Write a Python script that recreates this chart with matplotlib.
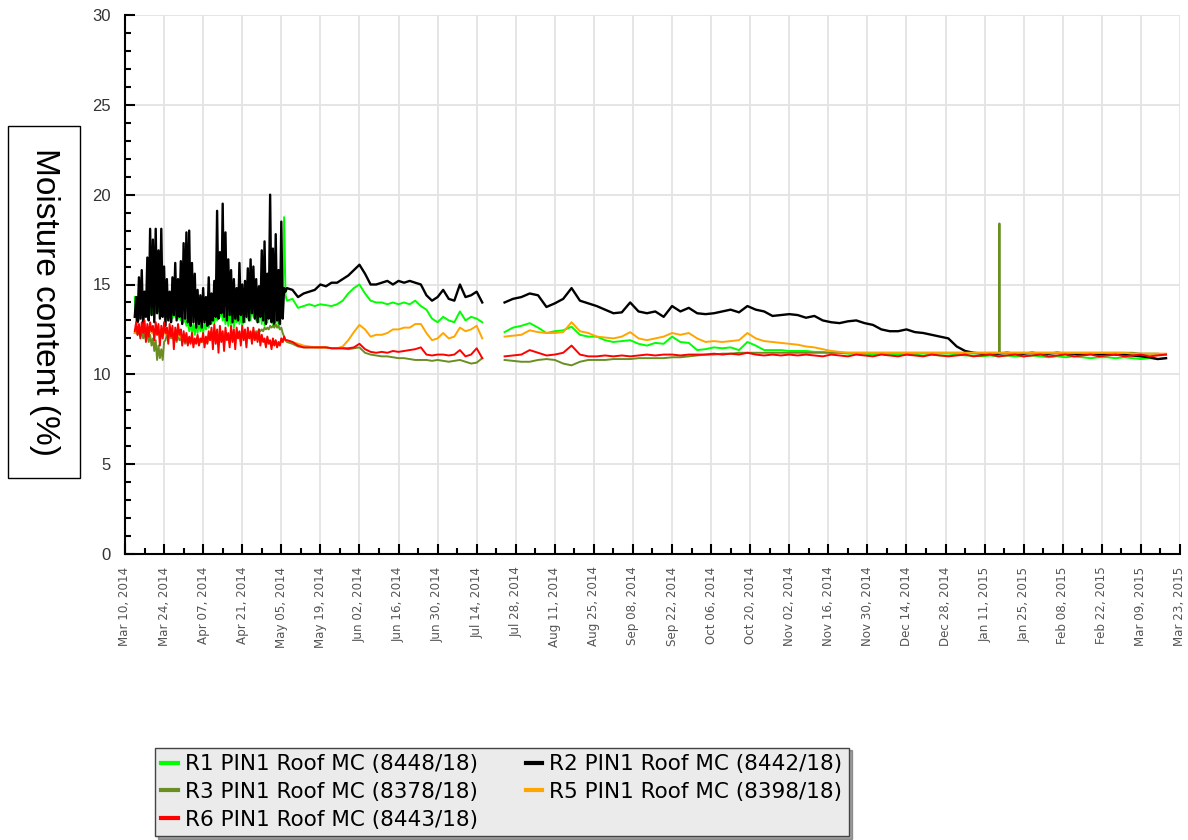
import numpy as np
import pandas as pd
import matplotlib
matplotlib.use("Agg")
import matplotlib.pyplot as plt
import matplotlib.dates as mdates
from matplotlib.patches import Rectangle
from matplotlib.lines import Line2D

START = pd.Timestamp("2014-03-10")
END = pd.Timestamp("2015-03-23")

# ---------------- data (day offsets from Mar 10, 2014) ----------------
# spiky spring period: every half day from day 3.5 to day 57.5
days_spiky = np.arange(3.5, 57.75, 0.5)
# early summer period: every 2 days, day 58 .. 128
days_a = np.arange(58, 129, 2)
# after the logger gap: every 3 days, day 136 .. 373
days_b = np.arange(136, 374, 3)

r1_spiky = [14.3, 12.9, 13.6, 13.0, 13.4, 13.1, 13.5, 13.2, 13.6, 13.3,
            13.8, 13.4, 13.9, 13.3, 13.7, 13.4, 14.0, 13.5, 13.9, 13.6,
            13.8, 13.4, 13.6, 13.3, 13.5, 13.2, 13.4, 13.1, 13.5, 13.2,
            13.6, 13.1, 13.4, 13.0, 13.3, 12.9, 13.2, 12.7, 13.0, 12.4,
            12.9, 12.3, 12.8, 12.2, 12.9, 12.3, 13.0, 12.4, 12.8, 12.3,
            12.9, 12.5, 13.0, 12.6, 13.1, 12.8, 13.2, 12.9, 13.3, 13.0,
            13.7, 13.2, 13.6, 13.0, 13.4, 12.8, 13.5, 12.7, 13.6, 12.8,
            13.4, 12.6, 13.5, 12.9, 13.6, 12.8, 13.3, 12.7, 13.5, 12.9,
            13.8, 13.1, 14.2, 13.0, 14.0, 13.2, 13.6, 13.0, 13.4, 12.9,
            13.8, 12.8, 14.5, 12.7, 15.1, 12.9, 14.8, 13.2, 14.3, 12.8,
            13.6, 12.9, 14.0, 12.6, 15.0, 13.4, 14.2, 18.75, 14.4]
r2_spiky = [13.2, 14.3, 12.9, 15.4, 13.1, 15.8, 12.8, 14.6, 13.2, 16.5,
            13.0, 18.1, 13.3, 17.5, 12.9, 18.1, 13.4, 16.9, 13.1, 18.1,
            13.2, 16.0, 12.7, 15.3, 13.0, 14.6, 12.9, 15.4, 13.3, 16.2,
            13.0, 15.3, 13.2, 16.3, 12.8, 17.3, 13.1, 17.9, 12.9, 18.0,
            12.7, 16.2, 12.9, 15.6, 12.6, 14.7, 12.8, 14.4, 12.6, 14.8,
            12.9, 14.3, 12.7, 15.4, 12.8, 14.5, 13.0, 15.2, 13.2, 19.1,
            13.1, 16.8, 13.4, 19.5, 13.2, 17.9, 13.0, 16.4, 13.3, 15.8,
            12.9, 15.3, 13.1, 14.8, 13.0, 16.2, 13.3, 15.0, 12.9, 15.2,
            13.2, 15.9, 13.0, 16.4, 13.4, 16.0, 13.1, 15.3, 12.9, 14.9,
            13.2, 16.9, 13.0, 17.4, 12.8, 15.6, 13.1, 20.0, 12.9, 17.0,
            12.7, 17.8, 13.0, 15.8, 12.8, 18.5, 13.1, 14.8, 14.6]
r3_spiky = [12.3, 12.5, 12.2, 12.4, 12.1, 12.4, 12.0, 12.3, 11.9, 12.2,
            11.8, 12.2, 11.6, 12.0, 11.3, 11.9, 10.8, 11.6, 10.9, 11.4,
            10.8, 11.8, 11.9, 12.2, 12.0, 12.3, 12.0, 12.2, 11.9, 12.1,
            11.8, 12.2, 11.9, 12.0, 11.8, 12.0, 11.7, 11.9, 11.7, 11.9,
            11.8, 12.0, 11.7, 11.9, 11.8, 12.0, 11.7, 11.9, 11.8, 12.0,
            11.8, 11.9, 11.8, 12.0, 11.9, 12.1, 11.9, 12.2, 11.9, 12.1,
            11.8, 12.2, 12.0, 12.1, 11.9, 12.2, 12.0, 12.1, 11.9, 12.2,
            12.0, 12.1, 11.9, 12.2, 12.1, 12.2, 12.0, 12.3, 12.1, 12.2,
            12.1, 12.3, 12.2, 12.3, 12.2, 12.4, 12.3, 12.4, 12.3, 12.5,
            12.4, 12.5, 12.4, 12.6, 12.5, 12.6, 12.5, 12.7, 12.6, 12.7,
            12.6, 12.8, 12.6, 12.7, 12.5, 12.6, 12.3, 12.1, 11.9]
r5_spiky = [12.3, 12.6, 12.4, 12.7, 12.3, 12.6, 12.4, 12.8, 12.3, 12.6,
            12.2, 12.7, 12.3, 12.5, 12.1, 12.6, 12.2, 12.5, 12.0, 12.4,
            12.1, 12.6, 12.2, 12.4, 12.0, 12.5, 12.1, 12.3, 11.9, 12.4,
            12.0, 12.5, 12.1, 12.3, 11.8, 12.2, 11.9, 12.2, 11.8, 12.0,
            11.8, 12.1, 11.7, 11.9, 11.8, 12.1, 11.7, 11.9, 11.8, 12.1,
            11.7, 12.0, 11.8, 12.2, 11.9, 12.4, 11.7, 12.5, 11.9, 12.3,
            11.6, 12.5, 11.9, 12.3, 11.6, 12.4, 12.0, 12.2, 11.7, 12.5,
            11.9, 12.3, 11.7, 12.4, 12.0, 12.3, 11.8, 12.5, 12.0, 12.3,
            11.7, 12.4, 12.0, 12.3, 11.8, 12.4, 12.0, 12.2, 11.9, 12.3,
            11.8, 12.1, 11.9, 11.9, 11.6, 12.0, 11.8, 11.8, 11.6, 11.9,
            11.7, 11.8, 11.6, 11.7, 11.7, 11.9, 11.8, 12.0, 11.9]
r6_spiky = [12.4, 12.9, 12.2, 12.8, 12.0, 12.9, 12.3, 13.0, 11.8, 12.8,
            12.1, 12.9, 12.4, 12.7, 11.9, 12.9, 12.2, 12.8, 11.6, 12.7,
            12.0, 12.9, 12.3, 12.6, 11.7, 12.8, 12.1, 12.7, 11.4, 12.6,
            11.9, 12.8, 12.2, 12.5, 11.6, 12.4, 11.8, 12.3, 11.6, 12.1,
            11.7, 12.3, 11.5, 12.0, 11.7, 12.2, 11.6, 12.0, 11.8, 12.3,
            11.5, 12.1, 11.7, 12.4, 11.9, 12.6, 11.4, 12.8, 11.7, 12.5,
            11.2, 12.7, 11.8, 12.4, 11.3, 12.6, 11.9, 12.3, 11.5, 12.7,
            11.8, 12.5, 11.4, 12.6, 12.0, 12.4, 11.6, 12.7, 11.9, 12.5,
            11.5, 12.6, 12.0, 12.4, 11.7, 12.6, 11.9, 12.3, 11.8, 12.5,
            11.6, 12.2, 11.8, 12.0, 11.5, 12.1, 11.7, 11.9, 11.4, 12.0,
            11.6, 11.9, 11.5, 11.8, 11.6, 12.0, 11.8, 12.1, 11.9]

r1_a = [14.1, 14.2, 13.7, 13.8, 13.9, 13.8,
        13.9, 13.85, 13.8, 13.9, 14.1, 14.5,
        14.8, 15.0, 14.5, 14.1, 14.0, 14.0,
        13.9, 14.0, 13.9, 14.0, 13.9, 14.1,
        13.8, 13.6, 13.1, 12.9, 13.2, 13.0,
        12.9, 13.5, 13.0, 13.2, 13.1, 12.9]
r2_a = [14.8, 14.7, 14.3, 14.5, 14.6, 14.7,
        15.0, 14.9, 15.1, 15.1, 15.3, 15.5,
        15.8, 16.1, 15.6, 15.0, 15.0, 15.1,
        15.2, 15.0, 15.2, 15.1, 15.2, 15.1,
        15.0, 14.4, 14.1, 14.3, 14.7, 14.2,
        14.1, 15.0, 14.3, 14.4, 14.6, 14.0]
r3_a = [11.8, 11.7, 11.55, 11.5, 11.5, 11.5,
        11.5, 11.5, 11.45, 11.45, 11.45, 11.4,
        11.45, 11.5, 11.2, 11.1, 11.05, 11.0,
        11.0, 10.95, 10.9, 10.9, 10.85, 10.8,
        10.8, 10.8, 10.75, 10.8, 10.75, 10.7,
        10.75, 10.8, 10.7, 10.6, 10.65, 10.9]
r5_a = [11.9, 11.8, 11.7, 11.6, 11.55, 11.5,
        11.5, 11.5, 11.45, 11.45, 11.55, 11.9,
        12.35, 12.75, 12.5, 12.1, 12.2, 12.2,
        12.3, 12.5, 12.5, 12.6, 12.6, 12.8,
        12.8, 12.3, 11.9, 12.0, 12.3, 12.0,
        12.1, 12.6, 12.4, 12.5, 12.7, 12.0]
r6_a = [11.9, 11.8, 11.6, 11.5, 11.5, 11.5,
        11.5, 11.5, 11.45, 11.45, 11.45, 11.45,
        11.5, 11.7, 11.4, 11.25, 11.2, 11.25,
        11.2, 11.3, 11.25, 11.3, 11.35, 11.4,
        11.5, 11.1, 11.05, 11.1, 11.1, 11.05,
        11.1, 11.35, 11.0, 11.1, 11.45, 10.9]

r1_b = [12.35, 12.6, 12.7, 12.85, 12.6, 12.3, 12.4, 12.45,
        12.65, 12.2, 12.1, 12.1, 11.9, 11.8, 11.85, 11.9,
        11.7, 11.6, 11.75, 11.7, 12.1, 11.8, 11.75, 11.35,
        11.4, 11.5, 11.45, 11.5, 11.35, 11.8, 11.6, 11.35,
        11.35, 11.35, 11.3, 11.3, 11.3, 11.25, 11.25, 11.2,
        11.2, 11.15, 11.15, 11.15, 11.1, 11.15, 11.1, 11.1,
        11.1, 11.1, 11.05, 11.1, 11.05, 11.05, 11.1, 11.05,
        11.05, 11.0, 11.05, 11.0, 11.05, 11.0, 11.0, 11.05,
        11.0, 10.95, 11.0, 10.95, 11.0, 10.95, 10.9, 10.95,
        10.95, 10.9, 10.95, 10.9, 10.85, 10.9, 10.85, 10.9]
r2_b = [14.0, 14.2, 14.3, 14.5, 14.4, 13.75, 13.95, 14.2,
        14.8, 14.1, 13.95, 13.8, 13.6, 13.4, 13.45, 14.0,
        13.5, 13.4, 13.5, 13.2, 13.8, 13.5, 13.7, 13.4,
        13.35, 13.4, 13.5, 13.6, 13.45, 13.8, 13.6, 13.5,
        13.25, 13.3, 13.35, 13.3, 13.15, 13.25, 13.0, 12.9,
        12.85, 12.95, 13.0, 12.85, 12.75, 12.5, 12.4, 12.4,
        12.5, 12.35, 12.3, 12.2, 12.1, 12.0, 11.55, 11.3,
        11.2, 11.15, 11.15, 11.15, 11.2, 11.15, 11.15, 11.2,
        11.15, 11.15, 11.2, 11.15, 11.15, 11.1, 11.15, 11.1,
        11.15, 11.1, 11.1, 11.05, 11.0, 10.95, 10.85, 10.9]
r3_b = [10.8, 10.75, 10.7, 10.7, 10.8, 10.85, 10.8, 10.6,
        10.5, 10.7, 10.8, 10.8, 10.8, 10.85, 10.85, 10.85,
        10.9, 10.9, 10.9, 10.9, 10.95, 10.95, 11.0, 11.05,
        11.1, 11.1, 11.15, 11.15, 11.2, 11.2, 11.2, 11.2,
        11.2, 11.2, 11.2, 11.2, 11.2, 11.2, 11.2, 11.2,
        11.2, 11.2, 11.2, 11.2, 11.2, 11.2, 11.2, 11.2,
        11.2, 11.2, 11.2, 11.2, 11.2, 11.2, 11.2, 11.2,
        11.2, 11.2, 11.2, 11.2, 11.2, 11.2, 11.2, 11.2,
        11.2, 11.2, 11.2, 11.2, 11.2, 11.2, 11.2, 11.2,
        11.2, 11.2, 11.2, 11.2, 11.15, 11.15, 11.15, 11.1]
r5_b = [12.1, 12.15, 12.2, 12.45, 12.35, 12.3, 12.3, 12.35,
        12.9, 12.4, 12.3, 12.1, 12.05, 12.0, 12.1, 12.35,
        12.0, 11.9, 12.0, 12.1, 12.3, 12.2, 12.3, 12.0,
        11.8, 11.85, 11.8, 11.85, 11.9, 12.3, 12.0, 11.85,
        11.8, 11.75, 11.7, 11.65, 11.55, 11.5, 11.4, 11.3,
        11.25, 11.2, 11.2, 11.2, 11.2, 11.2, 11.2, 11.2,
        11.2, 11.2, 11.2, 11.2, 11.2, 11.2, 11.2, 11.2,
        11.2, 11.2, 11.2, 11.2, 11.2, 11.2, 11.2, 11.2,
        11.2, 11.2, 11.2, 11.2, 11.2, 11.2, 11.2, 11.2,
        11.2, 11.2, 11.2, 11.15, 11.15, 11.15, 11.15, 11.15]
r6_b = [11.0, 11.05, 11.1, 11.35, 11.2, 11.05, 11.1, 11.2,
        11.6, 11.1, 11.0, 11.0, 11.05, 11.0, 11.05, 11.0,
        11.05, 11.1, 11.05, 11.1, 11.1, 11.05, 11.1, 11.1,
        11.1, 11.15, 11.1, 11.15, 11.1, 11.2, 11.1, 11.05,
        11.1, 11.05, 11.1, 11.05, 11.1, 11.05, 11.0, 11.1,
        11.05, 11.0, 11.1, 11.05, 11.0, 11.1, 11.05, 11.0,
        11.1, 11.05, 11.0, 11.1, 11.05, 11.0, 11.05, 11.1,
        11.0, 11.05, 11.1, 11.0, 11.05, 11.1, 11.0, 11.05,
        11.1, 11.0, 11.05, 11.1, 11.0, 11.05, 11.1, 11.0,
        11.05, 11.1, 11.0, 11.05, 11.1, 11.0, 11.05, 11.1]

# single sensor spike of R3 in January 2015
r3_spike_days = [313.2, 313.3, 313.4]
r3_spike_vals = [11.2, 18.4, 11.2]

labels = ["R1 PIN1 Roof MC (8448/18)", "R2 PIN1 Roof MC (8442/18)",
          "R3 PIN1 Roof MC (8378/18)", "R5 PIN1 Roof MC (8398/18)",
          "R6 PIN1 Roof MC (8443/18)"]
colors = ["#00ff00", "#000000", "#6b8e23", "#ffa500", "#ff0000"]

y_ticks = [0, 5, 10, 15, 20, 25, 30]
x_tick_labels = ["Mar 10, 2014", "Mar 24, 2014", "Apr 07, 2014", "Apr 21, 2014",
                 "May 05, 2014", "May 19, 2014", "Jun 02, 2014", "Jun 16, 2014",
                 "Jun 30, 2014", "Jul 14, 2014", "Jul 28, 2014", "Aug 11, 2014",
                 "Aug 25, 2014", "Sep 08, 2014", "Sep 22, 2014", "Oct 06, 2014",
                 "Oct 20, 2014", "Nov 02, 2014", "Nov 16, 2014", "Nov 30, 2014",
                 "Dec 14, 2014", "Dec 28, 2014", "Jan 11, 2015", "Jan 25, 2015",
                 "Feb 08, 2015", "Feb 22, 2015", "Mar 09, 2015", "Mar 23, 2015"]


def build(sp, a, b, extra_days=None, extra_vals=None):
    d = list(days_spiky) + list(days_a) + [132.0] + list(days_b)
    v = list(sp) + list(a) + [np.nan] + list(b)
    if extra_days is not None:
        d = d + list(extra_days)
        v = v + list(extra_vals)
        order = np.argsort(d, kind="stable")
        d = [d[i] for i in order]
        v = [v[i] for i in order]
    t = START + pd.to_timedelta(np.array(d), unit="D")
    return t, np.array(v, dtype=float)


series = [
    build(r1_spiky, r1_a, r1_b),
    build(r2_spiky, r2_a, r2_b),
    build(r3_spiky, r3_a, r3_b, r3_spike_days, r3_spike_vals),
    build(r5_spiky, r5_a, r5_b),
    build(r6_spiky, r6_a, r6_b),
]
widths = [1.4, 1.7, 1.4, 1.4, 1.4]

# ---------------- figure ----------------
W, H = 1188, 840
fig = plt.figure(figsize=(W / 100, H / 100), dpi=100)
ax = fig.add_axes([125 / W, 1 - 554 / H, (1180 - 125) / W, (554 - 15) / H])

for i, (t, v) in enumerate(series):
    ax.plot(t, v, color=colors[i], lw=widths[i], zorder=2 + i)

ax.set_xlim(START, END)
ax.set_ylim(0, 30)

major = pd.date_range(START, periods=len(x_tick_labels), freq="14D")
minor = pd.date_range(START, END, freq="7D")
ax.xaxis.set_major_locator(matplotlib.ticker.FixedLocator(mdates.date2num(major)))
ax.xaxis.set_minor_locator(matplotlib.ticker.FixedLocator(mdates.date2num(minor)))
ax.xaxis.set_major_formatter(matplotlib.ticker.FixedFormatter(x_tick_labels))
ax.set_yticks(y_ticks)
ax.yaxis.set_minor_locator(matplotlib.ticker.MultipleLocator(1))

for lab in ax.get_xticklabels():
    lab.set_rotation(90)
    lab.set_ha("center")
    lab.set_va("top")
    lab.set_fontsize(8.6)
    lab.set_color("#555555")
    lab.set_family("DejaVu Sans")
for lab in ax.get_yticklabels():
    lab.set_fontsize(12)
    lab.set_color("#333333")
    lab.set_family("Liberation Sans")

ax.tick_params(axis="both", which="major", direction="in", length=7, width=1.5, color="black")
ax.tick_params(axis="both", which="minor", direction="in", length=4, width=1.5, color="black")
ax.tick_params(axis="x", which="major", pad=9)
ax.tick_params(axis="y", which="major", pad=10)

ax.grid(True, which="major", color="#e3e3e3", lw=1.3, zorder=0)
ax.set_axisbelow(True)
for s in ["top", "right"]:
    ax.spines[s].set_visible(False)
for s in ["left", "bottom"]:
    ax.spines[s].set_linewidth(1.5)
    ax.spines[s].set_color("black")

# y-axis title in a box
fig.patches.append(Rectangle((8 / W, 1 - 478 / H), 72 / W, 352 / H, transform=fig.transFigure,
                             fill=True, facecolor="white", edgecolor="black", lw=1.0))
fig.text(44 / W, 1 - 302 / H, "Moisture content (%)", rotation=270, ha="center", va="center",
         fontsize=24, family="Liberation Sans", color="black")

# legend (column order as in reference)
order = [0, 2, 4, 1, 3]
handles = [Line2D([], [], color=colors[i], lw=3) for i in order]
leg = fig.legend(handles, [labels[i] for i in order], ncol=2, loc="lower left",
                 bbox_to_anchor=(155 / W, 4 / H), frameon=True, fancybox=False, shadow=True,
                 prop={"family": "DejaVu Sans", "size": 15.5}, handlelength=0.75,
                 handletextpad=0.35, columnspacing=2.2, labelspacing=0.36,
                 borderpad=0.3, borderaxespad=0)
leg.get_frame().set_facecolor("#ebebeb")
leg.get_frame().set_edgecolor("#444444")
leg.get_frame().set_linewidth(1.0)

fig.savefig("out.png", dpi=100)
